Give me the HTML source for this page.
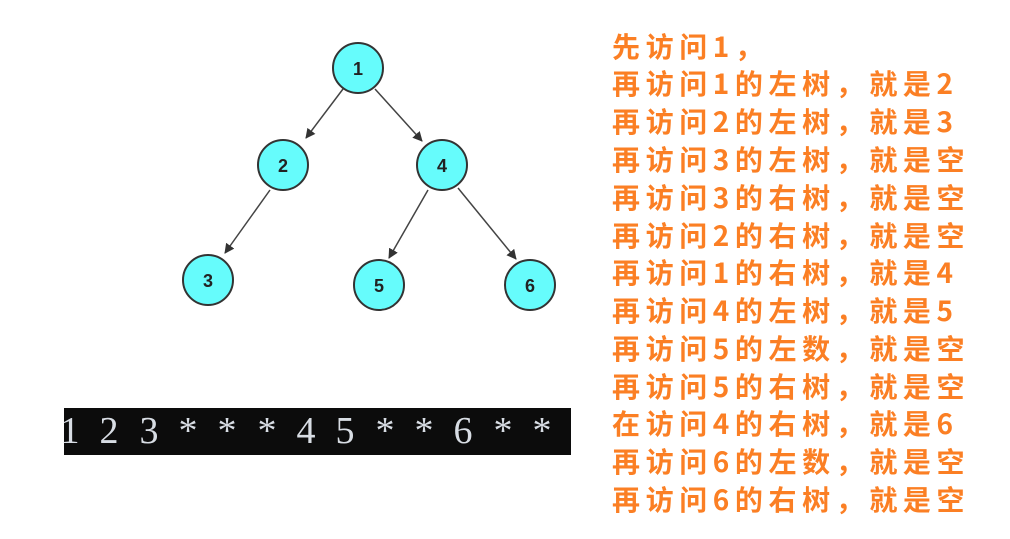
<!DOCTYPE html>
<html><head><meta charset="utf-8"><style>
html,body{margin:0;padding:0;background:#fff;width:1010px;height:539px;overflow:hidden;position:relative}
.t{position:absolute;left:612px;font-family:"WenQuanYi Zen Hei","Noto Sans CJK SC",sans-serif;font-size:28px;font-weight:bold;color:#fb7f24;letter-spacing:5.6px;line-height:32px;white-space:nowrap}
.bar{position:absolute;left:64px;top:408px;width:507px;height:47px;background:#0c0c0c}
.bar span{position:absolute;top:0;width:30px;margin-left:-15px;text-align:center;color:#d8dde4;font-family:"Liberation Serif",serif;font-size:38px;line-height:47px}
</style></head><body>
<svg width="1010" height="539" style="position:absolute;left:0;top:0">
<defs><marker id="a" markerWidth="10" markerHeight="10" refX="9" refY="5" orient="auto" markerUnits="userSpaceOnUse"><path d="M0,0 L10,5 L0,10 z" fill="#333"/></marker></defs>
<g stroke="#444" stroke-width="1.5" marker-end="url(#a)">
<line x1="343" y1="89" x2="306" y2="138"/>
<line x1="375" y1="89" x2="422" y2="141"/>
<line x1="270" y1="190" x2="225" y2="253"/>
<line x1="428" y1="190" x2="389" y2="258"/>
<line x1="458" y1="188" x2="516" y2="259"/>
</g>
<g fill="#66fcfc" stroke="#333" stroke-width="2">
<circle cx="358" cy="68" r="25"/><circle cx="283" cy="165" r="25"/><circle cx="442" cy="165" r="25"/>
<circle cx="208" cy="280" r="25"/><circle cx="379" cy="285" r="25"/><circle cx="530" cy="285" r="25"/>
</g>
<g font-family="Liberation Sans,sans-serif" font-weight="bold" font-size="18" fill="#222" text-anchor="middle">
<text x="358" y="75">1</text><text x="283" y="172">2</text><text x="442" y="172">4</text>
<text x="208" y="287">3</text><text x="379" y="292">5</text><text x="530" y="292">6</text>
</g>
</svg>
<div class="bar">
<span style="left:6px">1</span><span style="left:45px">2</span><span style="left:85px">3</span>
<span style="left:124px">*</span><span style="left:163px">*</span><span style="left:203px">*</span>
<span style="left:242px">4</span><span style="left:281px">5</span><span style="left:321px">*</span>
<span style="left:360px">*</span><span style="left:399px">6</span><span style="left:439px">*</span><span style="left:478px">*</span>
</div>
<div class="t" style="top:30px">先访问1，</div>
<div class="t" style="top:67px">再访问1的左树，就是2</div>
<div class="t" style="top:105px">再访问2的左树，就是3</div>
<div class="t" style="top:143px">再访问3的左树，就是空</div>
<div class="t" style="top:181px">再访问3的右树，就是空</div>
<div class="t" style="top:219px">再访问2的右树，就是空</div>
<div class="t" style="top:256px">再访问1的右树，就是4</div>
<div class="t" style="top:294px">再访问4的左树，就是5</div>
<div class="t" style="top:332px">再访问5的左数，就是空</div>
<div class="t" style="top:370px">再访问5的右树，就是空</div>
<div class="t" style="top:407px">在访问4的右树，就是6</div>
<div class="t" style="top:445px">再访问6的左数，就是空</div>
<div class="t" style="top:483px">再访问6的右树，就是空</div>
</body></html>
